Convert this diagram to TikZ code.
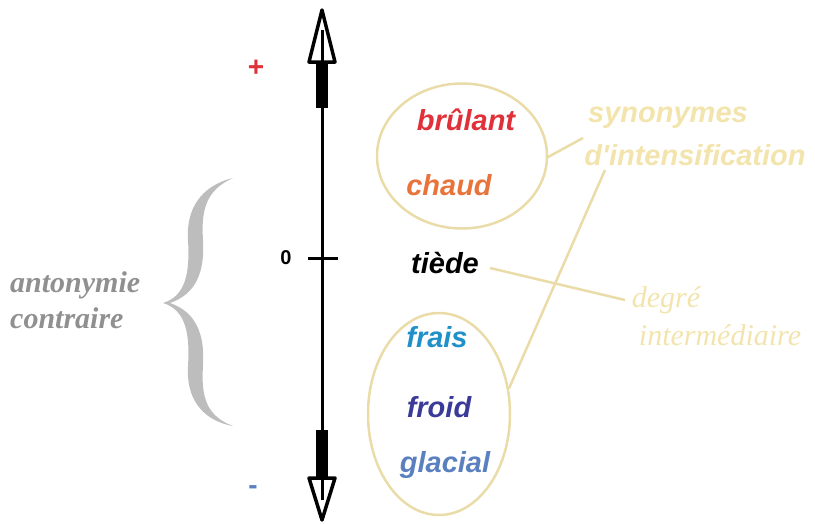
\documentclass[tikz,border=0pt]{standalone}
\usepackage{fontspec}
\usetikzlibrary{shapes.geometric}
\setmainfont{Liberation Serif}
\setsansfont{Liberation Sans}
\newfontfamily\labsans{Liberation Sans}[Ligatures=TeXOff]
\definecolor{cred}{HTML}{E0303A}
\definecolor{corange}{HTML}{E8743C}
\definecolor{cfrais}{HTML}{2090C8}
\definecolor{cfroid}{HTML}{3A3A98}
\definecolor{cglacial}{HTML}{5A80C0}
\definecolor{cbeige}{HTML}{EADCA8}
\definecolor{cpale}{HTML}{F2E4AC}
\definecolor{cgray}{HTML}{909090}
\definecolor{cbrace}{HTML}{BDBDBD}
\begin{document}
\begin{tikzpicture}[x=1pt,y=-1pt,
  word/.style={font=\sffamily\bfseries\itshape\fontsize{29}{30}\selectfont, inner sep=0pt, anchor=center},
  lab/.style={font=\labsans\bfseries\itshape\fontsize{29}{30}\selectfont, text=cpale, inner sep=0pt},
  serlab/.style={font=\rmfamily\itshape\fontsize{30}{31}\selectfont, text=cpale, inner sep=0pt},
  ant/.style={font=\rmfamily\bfseries\itshape\fontsize{30}{31}\selectfont, text=cgray, inner sep=0pt},
  ring/.style={draw=cbeige, line width=2.5pt, ellipse, inner sep=0pt},
  conn/.style={draw=cbeige, line width=2.5pt},
  axis/.style={line width=3pt, black}]
\useasboundingbox (0,0) rectangle (815,523);
% axis
\coordinate (top) at (322,10);
\coordinate (bot) at (322,520);
\draw[axis] (322,60) -- (322,478);
\fill[black] (316,60) rectangle (328,108);
\fill[black] (316,430) rectangle (328,478);
\draw[line width=3.5pt, fill=white, line join=round] (top) -- (335,62) -- (309,62) -- cycle;
\draw[line width=3pt] (322,30) -- (322,62);
\draw[line width=3.5pt, fill=white, line join=round] (bot) -- (335,478) -- (309,478) -- cycle;
\draw[line width=3pt] (322,478) -- (322,500);
\draw[line width=3pt] (308,258) -- (338,258);
\node[font=\sffamily\bfseries\fontsize{20}{21}\selectfont] (zero) at (286,258) {0};
\node[font=\sffamily\bfseries\fontsize{28}{29}\selectfont, text=cred] (plus) at (256,68) {+};
\node[font=\sffamily\bfseries\fontsize{28}{29}\selectfont, text=cglacial] (minus) at (253,490) {-};
% ellipses
\node[ring, minimum width=170pt, minimum height=145pt] (E1) at (462,156) {};
\node[ring, minimum width=142pt, minimum height=202pt] (E2) at (439,414) {};
% words
\node[word, text=cred] (brulant) at (466,120) {brûlant};
\node[word, text=corange] (chaud) at (449,185) {chaud};
\node[word, text=black] (tiede) at (445,263) {tiède};
\node[word, text=cfrais] (frais) at (437,337) {frais};
\node[word, text=cfroid] (froid) at (439,407) {froid};
\node[word, text=cglacial] (glacial) at (445,465) {glacial};
% labels
\node[lab] (syn1) at (668,118) {synonymes};
\node[lab] (syn2) at (695,155) {d'intensification};
\node[serlab] (deg1) at (666,300) {degré};
\node[serlab] (deg2) at (720,335) {intermédiaire};
\node[ant, anchor=west] (ant1) at (10,285) {antonymie};
\node[ant, anchor=west] (ant2) at (10,318) {contraire};
% connectors
\coordinate (c1) at (583,138);
\coordinate (c2) at (605,170);
\coordinate (c3) at (625,300);
\coordinate (t1) at (490,268);
\draw[conn] (E1.east) ++(-2,2) -- (c1);
\draw[conn] (E2.20) -- (c2);
\draw[conn] (t1) -- (c3);
% brace
\fill[cbrace] (233,178) .. controls (200,186) and (186,210) .. (188,240)
  .. controls (190,272) and (186,296) .. (163,303)
  .. controls (186,310) and (190,334) .. (188,366)
  .. controls (186,396) and (200,420) .. (233,426)
  .. controls (206,416) and (201,396) .. (203,366)
  .. controls (205,334) and (196,312) .. (170,303)
  .. controls (196,294) and (205,272) .. (203,240)
  .. controls (201,210) and (206,190) .. (233,178) -- cycle;
\end{tikzpicture}
\end{document}
